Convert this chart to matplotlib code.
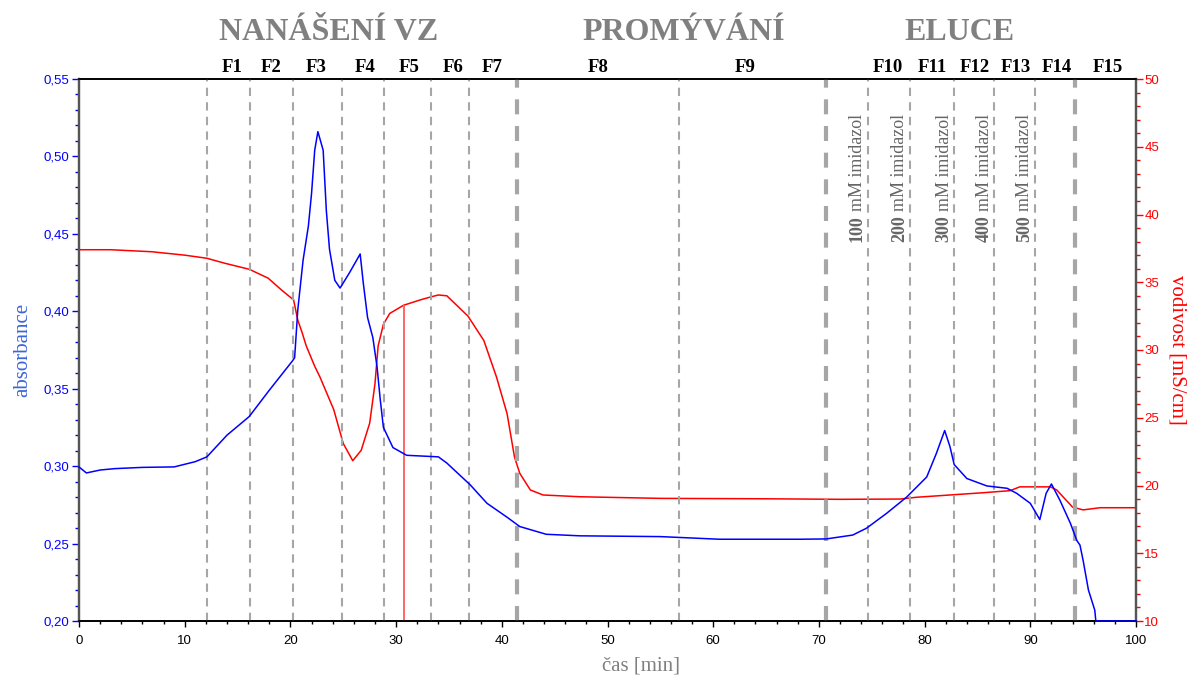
import matplotlib
matplotlib.use("Agg")
import matplotlib.pyplot as plt
from matplotlib.ticker import MultipleLocator, FuncFormatter
from matplotlib.transforms import blended_transform_factory

# ---------------- data ----------------
time_abs = [0, 0.7, 2, 3.4, 6, 9, 11, 12.1, 14, 16.1, 18, 20.2, 20.4, 20.7, 21.2, 21.7,
            22.0, 22.3, 22.6, 23.1, 23.4, 23.7, 24.2, 24.7, 25.6, 26.6, 26.9, 27.3, 27.8,
            28.2, 28.5, 28.8, 29.7, 31.0, 34.0, 34.8, 37.0, 38.6, 40.5, 41.7, 44.2, 47.4,
            55, 60.6, 68.2, 70.7, 73.2, 74.5, 76.4, 78.3, 80.2, 81.1, 81.9, 82.4, 82.8,
            84.0, 85.9, 87.8, 88.7, 90.0, 90.9, 91.5, 92.0, 92.8, 93.8, 94.4, 94.7, 95.0,
            95.5, 96.1, 96.2, 100]
absorbance = [0.2995, 0.2956, 0.2975, 0.2984, 0.2992, 0.2995, 0.3029, 0.306, 0.320, 0.332,
              0.349, 0.368, 0.370, 0.401, 0.433, 0.455, 0.476, 0.504, 0.516, 0.504, 0.465,
              0.440, 0.420, 0.415, 0.425, 0.437, 0.418, 0.396, 0.383, 0.364, 0.343, 0.325,
              0.312, 0.307, 0.306, 0.302, 0.288, 0.276, 0.267, 0.261, 0.256, 0.255, 0.2545,
              0.2528, 0.2528, 0.253, 0.2555, 0.2599, 0.2695, 0.280, 0.293, 0.308, 0.323,
              0.3126, 0.301, 0.292, 0.2872, 0.2857, 0.2825, 0.276, 0.2655, 0.2825, 0.2885,
              0.278, 0.263, 0.252, 0.249, 0.239, 0.220, 0.207, 0.200, 0.200]

time_cond = [0, 3, 6.9, 10, 12.1, 13.8, 16.1, 17.9, 19.2, 20.3, 20.7, 21.1, 21.5, 22.3,
             22.8, 24.1, 25.0, 25.9, 26.7, 27.5, 28.0, 28.3, 28.8, 29.4, 30.7, 32.3, 33.2,
             34.0, 34.8, 36.8, 38.3, 39.5, 40.5, 41.2, 41.7, 42.7, 43.9, 47.4, 55, 65, 72,
             77.7, 79.2, 82.4, 85.6, 88.1, 89.0, 91.9, 92.5, 94.0, 95.0, 96.6, 99.9]
conductivity = [37.4, 37.4, 37.25, 37.0, 36.77, 36.4, 35.96, 35.3, 34.4, 33.7, 32.2, 31.3,
                30.3, 28.8, 28.0, 25.6, 23.1, 21.83, 22.6, 24.6, 27.5, 30.3, 31.9, 32.7,
                33.3, 33.7, 33.9, 34.06, 34.0, 32.5, 30.7, 28.0, 25.3, 22.1, 20.9, 19.67,
                19.3, 19.17, 19.05, 19.02, 18.98, 19.0, 19.13, 19.3, 19.47, 19.62, 19.9,
                19.9, 19.67, 18.4, 18.2, 18.36, 18.36]

injection_time = 30.75
injection_top = 33.3

thin_bounds = [12.1, 16.2, 20.2, 24.9, 28.9, 33.3, 36.9, 56.8, 74.6, 78.6, 82.8, 86.6, 90.4]
thick_bounds = [41.4, 70.7, 94.2]

fraction_labels = ["F1", "F2", "F3", "F4", "F5", "F6", "F7", "F8", "F9", "F10", "F11",
                   "F12", "F13", "F14", "F15"]
fraction_pos = [14.5, 18.2, 22.4, 27.1, 31.2, 35.4, 39.1, 49.1, 63.0, 76.5, 80.7, 84.7,
                88.6, 92.5, 97.3]

phase_labels = ["NANÁŠENÍ VZ", "PROMÝVÁNÍ", "ELUCE"]
phase_pos = [23.6, 57.2, 83.3]

imid_conc = ["100", "200", "300", "400", "500"]
imid_lines = [74.6, 78.6, 82.8, 86.6, 90.4]

# ---------------- figure ----------------
SERIF = ["Liberation Serif", "DejaVu Serif"]
SANS = ["Liberation Sans", "DejaVu Sans"]

fig = plt.figure(figsize=(11.96, 6.78), dpi=100)
ax = fig.add_axes([79/1196, 1 - 621/678, (1136-79)/1196, (621-79)/678])
ax2 = ax.twinx()

ax.set_xlim(0, 100)
ax.set_ylim(0.20, 0.55)
ax2.set_ylim(10, 50)

grey_line = "#a6a6a6"
for b in thin_bounds:
    ax.axvline(b, color=grey_line, lw=1.5, linestyle=(0, (4, 3)), zorder=1)
for b in thick_bounds:
    ax.axvline(b, color=grey_line, lw=3.0, linestyle=(0, (3.6, 2.8)), zorder=1)

ax2.plot(time_cond, conductivity, color="#ff0000", lw=1.1, zorder=3)
ax2.vlines(injection_time, 10, injection_top, color="#ff5a5a", lw=1.3, zorder=3)
ax.plot(time_abs, absorbance, color="#0000ff", lw=1.1, zorder=4, clip_on=False)

ax.set_zorder(ax2.get_zorder() + 1)
ax.patch.set_visible(False)

# ticks
comma = FuncFormatter(lambda v, p: f"{v:.2f}".replace(".", ","))
ax.yaxis.set_major_locator(MultipleLocator(0.05))
ax.yaxis.set_minor_locator(MultipleLocator(0.01))
ax.yaxis.set_major_formatter(comma)
ax.tick_params(axis="y", which="major", colors="#0000ff", length=5, width=1, labelsize=9.5, pad=2)
ax.tick_params(axis="y", which="minor", colors="#0000ff", length=3, width=1)
ax.xaxis.set_major_locator(MultipleLocator(10))
ax.xaxis.set_minor_locator(MultipleLocator(2))
ax.tick_params(axis="x", which="major", colors="black", length=4, width=1, labelsize=9.5, pad=6)
ax.tick_params(axis="x", which="minor", colors="black", length=2.5, width=1)
ax2.yaxis.set_major_locator(MultipleLocator(5))
ax2.yaxis.set_minor_locator(MultipleLocator(1))
ax2.tick_params(axis="y", which="major", colors="#ff0000", length=5, width=1, labelsize=9.5, pad=1)
ax2.tick_params(axis="y", which="minor", colors="#ff0000", length=3, width=1)
for lab in ax.get_xticklabels() + ax.get_yticklabels() + ax2.get_yticklabels():
    lab.set_family(SANS)

for a in (ax, ax2):
    a.spines["left"].set_color("#555555")
    a.spines["left"].set_linewidth(1.6)
    a.spines["right"].set_color("#555555")
    a.spines["right"].set_linewidth(1.6)
    a.spines["top"].set_color("black")
    a.spines["top"].set_linewidth(1.2)
    a.spines["bottom"].set_color("black")
    a.spines["bottom"].set_linewidth(1.2)

ax.set_ylabel("absorbance", family=SERIF, fontsize=15, color="#3a64d8", labelpad=8)
ax2.set_ylabel("vodivost [mS/cm]", family=SERIF, fontsize=15, color="#ff0000",
               rotation=270, labelpad=20)
ax.set_xlabel("čas [min]", family=SERIF, fontsize=15, color="#808080")
ax.xaxis.set_label_coords(0.532, -0.065)

# header texts
tr = blended_transform_factory(ax.transData, fig.transFigure)
for lab, x in zip(phase_labels, phase_pos):
    ax.text(x, 1 - 33/678, lab, transform=tr, ha="center", va="center", family=SERIF,
            fontsize=23, fontweight="bold", color="#808080")
for lab, x in zip(fraction_labels, fraction_pos):
    ax.text(x, 1 - 68/678, lab, transform=tr, ha="center", va="center", family=SERIF,
            fontsize=13.5, fontweight="bold", color="black")

# imidazol labels
fig.canvas.draw()
renderer = fig.canvas.get_renderer()
trA = blended_transform_factory(ax.transData, ax.transAxes)
y0 = (621 - 242) / 542
for conc, xl in zip(imid_conc, imid_lines):
    t1 = ax.text(xl - 0.95, y0, conc, transform=trA, rotation=90, ha="center", va="bottom",
                 family=SERIF, fontsize=13, fontweight="bold", color="#666666")
    bb = t1.get_window_extent(renderer)
    h_axes = (bb.height + 4) / ax.get_window_extent(renderer).height
    ax.text(xl - 0.95, y0 + h_axes, "mM imidazol", transform=trA, rotation=90,
            ha="center", va="bottom", family=SERIF, fontsize=13, color="#666666")

fig.savefig("out.png", dpi=100)
